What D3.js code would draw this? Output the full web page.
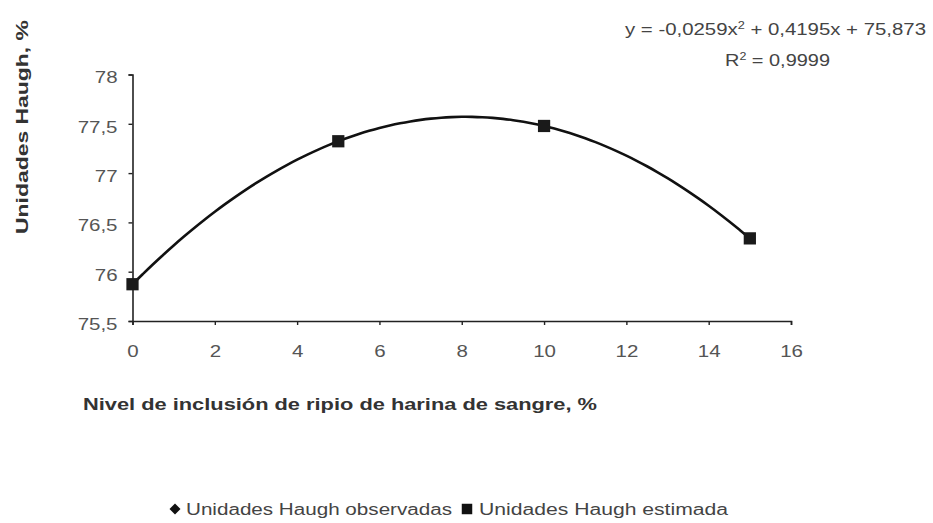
<!DOCTYPE html>
<html>
<head>
<meta charset="utf-8">
<script src="https://cdn.jsdelivr.net/npm/d3@7"></script>
<style>
  html, body { margin: 0; padding: 0; background: #fff; }
  svg { display: block; font-family: "Liberation Sans", Arial, sans-serif; }
</style>
</head>
<body>
<svg id="chart" width="933" height="523"></svg>
<script>
// Inclusion level of blood-meal residue (%)
const levels = [0, 5, 10, 15];
// Observed Haugh units
const observed = [75.873, 77.323, 77.478, 76.338];
// Estimated Haugh units
const estimated = [75.873, 77.323, 77.478, 76.338];
// Quadratic trendline coefficients: y = a·x² + b·x + c
const trendCoef = [-0.0259, 0.4195, 75.873];
const xTicks = [0, 2, 4, 6, 8, 10, 12, 14, 16];
const yTicks = [75.5, 76, 76.5, 77, 77.5, 78];
const legendLabels = ["Unidades Haugh observadas", "Unidades Haugh estimada"];

const svg = d3.select("#chart");
const x = d3.scaleLinear().domain([0, 16]).range([132.5, 791]);
const y = d3.scaleLinear().domain([75.5, 78]).range([321, 74.5]);
const fmt = d => String(d).replace(".", ",");

// Widen glyphs horizontally by a factor (the chart uses a broad sans face)
function widen(sel, factor) {
  sel.each(function () {
    const w = this.getComputedTextLength();
    d3.select(this).attr("textLength", w * factor).attr("lengthAdjust", "spacingAndGlyphs");
  });
}

// Square-proportioned diamond marker
const diamond = r => `M0,${-r}L${r},0L0,${r}L${-r},0Z`;

// Axes
const xAxis = svg.append("g").attr("transform", `translate(0,${y(75.5)})`)
  .call(d3.axisBottom(x).tickValues(xTicks).tickFormat(fmt).tickSizeOuter(0).tickSize(4).tickPadding(21));
const yAxis = svg.append("g").attr("transform", `translate(${x(0)},0)`)
  .call(d3.axisLeft(y).tickValues(yTicks).tickFormat(fmt).tickSizeOuter(0).tickSize(4).tickPadding(11));
[xAxis, yAxis].forEach(g => {
  g.select(".domain").attr("stroke", "#222").attr("stroke-width", 1.6);
  g.selectAll(".tick line").attr("stroke", "#222").attr("stroke-width", 1.4);
  g.selectAll(".tick text").attr("fill", "#555").attr("font-size", 16)
    .attr("font-family", "'Liberation Sans', Arial, sans-serif");
});
yAxis.selectAll(".tick text").attr("dy", "0.52em");
widen(xAxis.selectAll(".tick text"), 1.28);
widen(yAxis.selectAll(".tick text"), 1.28);

// Trendline from the fitted polynomial
const poly = xv => trendCoef[0] * xv * xv + trendCoef[1] * xv + trendCoef[2];
const trendXs = d3.range(0, 15.001, 0.25);
svg.append("path")
  .datum(trendXs)
  .attr("fill", "none").attr("stroke", "#111").attr("stroke-width", 2.6)
  .attr("d", d3.line().x(d => x(d)).y(d => y(poly(d))).curve(d3.curveBasis));

// Observed points (diamonds)
svg.append("g").selectAll("path").data(levels).join("path")
  .attr("transform", (d, i) => `translate(${x(d)},${y(observed[i])})`)
  .attr("d", diamond(5.5))
  .attr("fill", "#111");

// Estimated points (squares)
svg.append("g").selectAll("path").data(levels).join("path")
  .attr("transform", (d, i) => `translate(${x(d)},${y(estimated[i])})`)
  .attr("d", d3.symbol(d3.symbolSquare, 150))
  .attr("fill", "#1a1a1a");

// Axis titles
svg.append("text")
  .attr("transform", "translate(28,127) rotate(-90)")
  .attr("text-anchor", "middle").attr("font-size", 16.5).attr("font-weight", "bold").attr("fill", "#333")
  .attr("textLength", 214).attr("lengthAdjust", "spacingAndGlyphs")
  .text("Unidades Haugh, %");
svg.append("text")
  .attr("x", 83).attr("y", 410)
  .attr("font-size", 16.5).attr("font-weight", "bold").attr("fill", "#333")
  .attr("textLength", 514).attr("lengthAdjust", "spacingAndGlyphs")
  .text("Nivel de inclusión de ripio de harina de sangre, %");

// Trendline equation
const eq = svg.append("text").attr("x", 625).attr("y", 35)
  .attr("font-size", 16).attr("fill", "#444")
  .attr("textLength", 301).attr("lengthAdjust", "spacingAndGlyphs");
eq.append("tspan").text("y = -0,0259x");
eq.append("tspan").attr("dy", -6).attr("font-size", 10).text("2");
eq.append("tspan").attr("dy", 6).text(" + 0,4195x + 75,873");
const r2 = svg.append("text").attr("x", 725).attr("y", 66)
  .attr("font-size", 16).attr("fill", "#444")
  .attr("textLength", 105).attr("lengthAdjust", "spacingAndGlyphs");
r2.append("tspan").text("R");
r2.append("tspan").attr("dy", -6).attr("font-size", 10).text("2");
r2.append("tspan").attr("dy", 6).text(" = 0,9999");

// Legend
const legend = svg.append("g").attr("font-size", 16).attr("fill", "#444");
legend.append("path").attr("transform", "translate(175,509)")
  .attr("d", diamond(5.5)).attr("fill", "#111");
legend.append("text").attr("x", 186).attr("y", 515)
  .attr("textLength", 266).attr("lengthAdjust", "spacingAndGlyphs").text(legendLabels[0]);
legend.append("path").attr("transform", "translate(467,509)")
  .attr("d", d3.symbol(d3.symbolSquare, 110)).attr("fill", "#111");
legend.append("text").attr("x", 479).attr("y", 515)
  .attr("textLength", 249).attr("lengthAdjust", "spacingAndGlyphs").text(legendLabels[1]);
</script>
</body>
</html>
